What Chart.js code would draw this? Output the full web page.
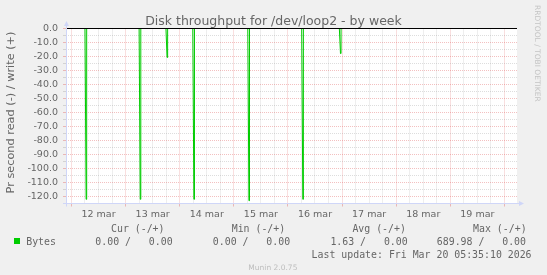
<!DOCTYPE html>
<html><head><meta charset="utf-8">
<script src="https://cdn.jsdelivr.net/npm/chart.js@4.4.1/dist/chart.umd.min.js"></script>
<style>
html,body{margin:0;padding:0;background:#f0f0f0;}
#wrap{position:relative;width:547px;height:275px;overflow:hidden;background:#f0f0f0;}
#c,#txt{position:absolute;left:0;top:0;}
#txt text{white-space:pre;}
</style></head><body>
<div id="wrap">
<canvas id="c" width="547" height="275"></canvas>
<svg id="txt" width="547" height="275" xmlns="http://www.w3.org/2000/svg"></svg>
</div>
<script>
// ---- data ----
const titleText = 'Disk throughput for /dev/loop2 - by week';
const yAxisTitle = 'Pr second read (-) / write (+)';
const dayLabels = ['12 mar','13 mar','14 mar','15 mar','16 mar','17 mar','18 mar','19 mar'];
// hours after 12 mar 00:00
const rangeStart = -2.42;   // Mar 11 21:35
const rangeEnd = 197.58;    // Mar 20 05:35
const spikeHours = [6.0, 30.0, 41.9, 53.8, 78.2, 102.1, 118.8];
const readValues = [-122, -122, -20.7, -122, -123, -122, -17.9];
const writeValues = [0, 0, 0, 0, 0, 0, 0];
const yMin = -125, yMax = 0;
const seriesName = 'Bytes';
const legendHeaders = ['Cur (-/+)','Min (-/+)','Avg (-/+)','Max (-/+)'];
const legendValues = ['0.00 /   0.00','0.00 /   0.00','1.63 /   0.00','689.98 /   0.00'];
const lastUpdate = 'Last update: Fri Mar 20 05:35:10 2026';
const footerText = 'Munin 2.0.75';
const watermarkText = 'RRDTOOL / TOBI OETIKER';

// ---- style ----
const GREEN = '#00CC00';
const FONT_COL = '#666666';
const MGRID = 'rgba(222,80,80,0.36)';
const GRID = 'rgba(143,143,143,0.3)';
const AXIS = '#CFD6F8';
const SAMPLE = 0.5; // 30 min consolidation step

function buildSeries(hours, vals) {
  const pts = [{x: rangeStart, y: 0}];
  hours.forEach((h, i) => {
    pts.push({x: h, y: 0}, {x: h + SAMPLE, y: vals[i]}, {x: h + SAMPLE * 1.5, y: vals[i]}, {x: h + SAMPLE * 1.5, y: 0});
  });
  pts.push({x: rangeEnd, y: 0});
  return pts;
}

const xGrid = [];
for (let h = Math.ceil(rangeStart / 6) * 6; h <= rangeEnd; h += 6) xGrid.push(h);
const yGrid = [];
for (let v = yMin; v <= yMax; v += 5) yGrid.push(v);

const isMidnight = v => ((Math.round(v) % 24) + 24) % 24 === 0;
const isMajorY = v => Math.round(v) % 10 === 0;

const bgPlugin = {
  id: 'bg',
  beforeDraw(chart) {
    const a = chart.chartArea, ctx = chart.ctx;
    ctx.save(); ctx.fillStyle = '#ffffff';
    ctx.fillRect(a.left, a.top, a.right - a.left, a.bottom - a.top);
    ctx.restore();
  }
};
const axisPlugin = {
  id: 'axes',
  afterDatasetsDraw(chart) {
    const ctx = chart.ctx, a = chart.chartArea;
    const y0 = chart.scales.y.getPixelForValue(0);
    ctx.save();
    ctx.strokeStyle = '#000000'; ctx.lineWidth = 1;
    ctx.beginPath(); ctx.moveTo(a.left, y0); ctx.lineTo(a.right, y0); ctx.stroke();
    ctx.restore();
  },
  afterDraw(chart) {
    const ctx = chart.ctx, a = chart.chartArea;
    const xl = a.left + 0.5, yb = a.bottom;
    ctx.save();
    ctx.strokeStyle = AXIS; ctx.fillStyle = AXIS; ctx.lineWidth = 1;
    ctx.beginPath();
    ctx.moveTo(a.left - 3, yb); ctx.lineTo(a.right + 3, yb);
    ctx.moveTo(xl, yb + 3); ctx.lineTo(xl, a.top - 4);
    ctx.stroke();
    ctx.beginPath();
    ctx.moveTo(a.right + 7, yb); ctx.lineTo(a.right + 2, yb - 2.5); ctx.lineTo(a.right + 2, yb + 2.5); ctx.closePath();
    ctx.fill();
    ctx.beginPath();
    ctx.moveTo(xl, a.top - 7.5); ctx.lineTo(xl - 2.5, a.top - 2.5); ctx.lineTo(xl + 2.5, a.top - 2.5); ctx.closePath();
    ctx.fill();
    ctx.restore();
  }
};

new Chart(document.getElementById('c'), {
  type: 'line',
  data: {
    datasets: [
      {label: 'write', data: buildSeries(spikeHours, writeValues), borderColor: GREEN, borderWidth: 1, pointRadius: 0, fill: false, tension: 0},
      {label: 'read', data: buildSeries(spikeHours, readValues), borderColor: GREEN, borderWidth: 1, pointRadius: 0, fill: false, tension: 0}
    ]
  },
  options: {
    responsive: false, animation: false, devicePixelRatio: 1,
    layout: {padding: {left: 0, top: 28.5, right: 30, bottom: 0}},
    plugins: {legend: {display: false}, tooltip: {enabled: false}, title: {display: false}},
    scales: {
      x: {
        type: 'linear', min: rangeStart, max: rangeEnd,
        afterBuildTicks: s => { s.ticks = xGrid.map(v => ({value: v})); },
        afterFit: s => { s.height = 71.5; },
        grid: {
          color: c => isMidnight(c.tick.value) ? MGRID : GRID,
          tickColor: c => isMidnight(c.tick.value) ? MGRID : 'rgba(0,0,0,0)',
          lineWidth: 1, tickLength: 3, drawTicks: true
        },
        border: {display: false, dash: [1, 1]},
        ticks: {
          autoSkip: false, maxRotation: 0, minRotation: 0, padding: 2,
          color: FONT_COL, font: {family: 'DejaVu Sans', size: 9.5},
          callback: v => {
            const r = Math.round(v);
            if (((r % 24) + 24) % 24 !== 12) return '';
            return dayLabels[(r - 12) / 24] || '';
          }
        }
      },
      y: {
        type: 'linear', min: yMin, max: yMax,
        afterBuildTicks: s => { s.ticks = yGrid.map(v => ({value: v})); },
        afterFit: s => { s.width = 66; },
        grid: {
          color: c => isMajorY(c.tick.value) ? MGRID : GRID,
          tickColor: c => isMajorY(c.tick.value) ? MGRID : GRID,
          lineWidth: 1, tickLength: 3, drawTicks: true
        },
        border: {display: false, dash: [1, 1]},
        ticks: {
          autoSkip: false, padding: 5,
          color: FONT_COL, font: {family: 'DejaVu Sans', size: 9.5},
          callback: v => (isMajorY(v) && v > yMin) ? (v === 0 ? 0 : v).toFixed(1) : ''
        }
      }
    }
  },
  plugins: [bgPlugin, axisPlugin]
});

// ---- texts (real SVG text) ----
const svg = document.getElementById('txt');
const NS = 'http://www.w3.org/2000/svg';
function addText(str, x, y, o) {
  const t = document.createElementNS(NS, 'text');
  t.textContent = str;
  t.setAttribute('x', x); t.setAttribute('y', y);
  t.setAttribute('font-family', o.family || 'DejaVu Sans');
  t.setAttribute('font-size', o.size);
  t.setAttribute('fill', o.fill || FONT_COL);
  if (o.anchor) t.setAttribute('text-anchor', o.anchor);
  if (o.transform) t.setAttribute('transform', o.transform);
  svg.appendChild(t);
}
addText(titleText, 273.5, 24.7, {size: 12.5, anchor: 'middle'});
addText(yAxisTitle, 0, 0, {size: 11.3, anchor: 'middle', transform: 'translate(14,112.5) rotate(-90)'});
addText(watermarkText, 0, 0, {size: 7.5, fill: '#c4c4c4', transform: 'translate(534.5,5) rotate(90)'});
const MONO = 'DejaVu Sans Mono';
const headX = [111.0, 231.7, 352.4, 473.1];
const valX = [95.3, 212.8, 330.4, 436.8];
legendHeaders.forEach((h, i) => addText(h, headX[i], 232.3, {size: 9.9, family: MONO}));
legendValues.forEach((v, i) => addText(v, valX[i], 244.5, {size: 9.9, family: MONO}));
addText(seriesName, 26.2, 244.5, {size: 9.9, family: MONO});
addText(lastUpdate, 311.6, 257.5, {size: 9.9, family: MONO});
addText(footerText, 272.9, 270.3, {size: 7.5, fill: '#bdbdbd', anchor: 'middle'});
const sq = document.createElementNS(NS, 'rect');
sq.setAttribute('x', 14); sq.setAttribute('y', 238); sq.setAttribute('width', 6); sq.setAttribute('height', 6);
sq.setAttribute('fill', GREEN);
svg.appendChild(sq);
</script>
</body></html>
